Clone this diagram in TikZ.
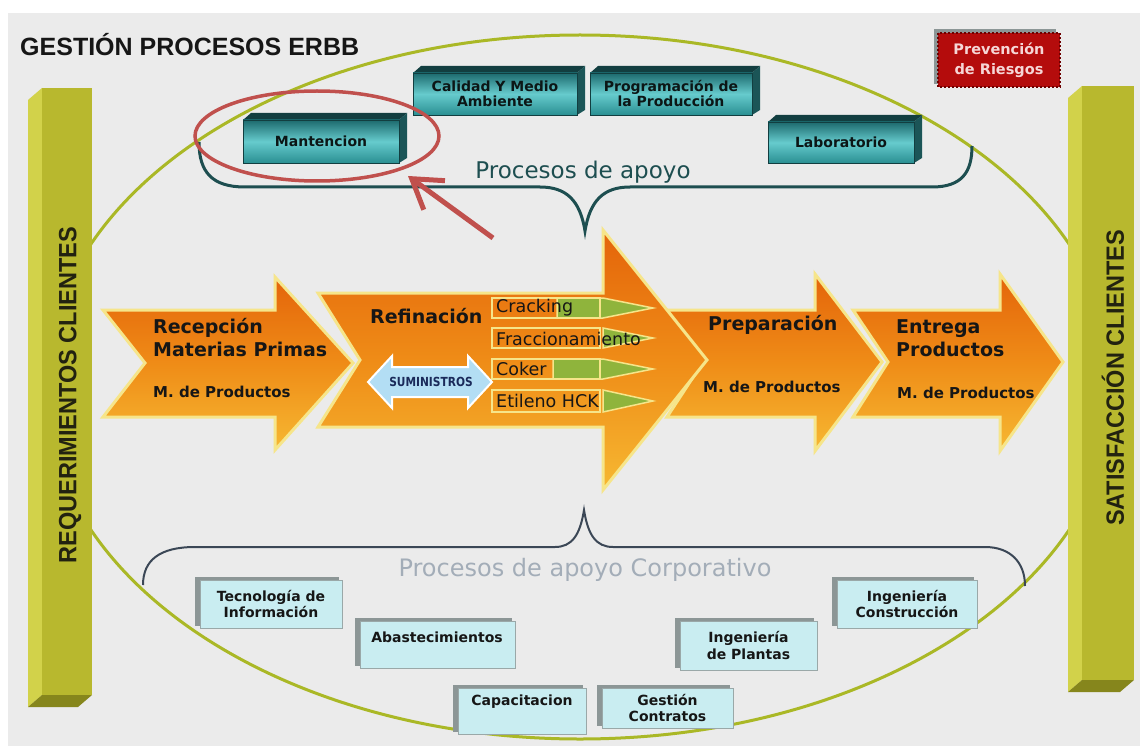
\documentclass[tikz,border=0pt]{standalone}
\usepackage{fontspec}
\setmainfont{DejaVu Sans}
\newfontfamily\arialfont{Liberation Sans}
\usetikzlibrary{arrows.meta,calc,shapes.geometric}

% palette
\definecolor{paper}{HTML}{EBEBEB}
\definecolor{hoopgreen}{HTML}{AAB826}
\definecolor{palegold}{HTML}{F6E58A}
\definecolor{orangetop}{HTML}{E4640A}
\definecolor{orangemid}{HTML}{EF8C17}
\definecolor{orangebot}{HTML}{F6B832}
\definecolor{leaf}{HTML}{8FB43C}
\definecolor{sky}{HTML}{B3DEF4}
\definecolor{navyink}{HTML}{1A2A5A}
\definecolor{inkdark}{HTML}{161616}
\definecolor{tealtopc}{HTML}{1D6A6E}
\definecolor{tealmidc}{HTML}{66CBCD}
\definecolor{tealbotc}{HTML}{2A8F92}
\definecolor{tealroof}{HTML}{123E40}
\definecolor{tealflank}{HTML}{1B5557}
\definecolor{tealink}{HTML}{0C1616}
\definecolor{bracketteal}{HTML}{1D4E50}
\definecolor{bracketslate}{HTML}{3B4756}
\definecolor{corplabel}{HTML}{A3ADB8}
\definecolor{corpfill}{HTML}{C9EDF1}
\definecolor{corpshade}{HTML}{8C9696}
\definecolor{corpedge}{HTML}{9AA8A8}
\definecolor{riskfill}{HTML}{B40C0C}
\definecolor{riskedge}{HTML}{6E0000}
\definecolor{risktext}{HTML}{F6D6D6}
\definecolor{ringred}{HTML}{C0504D}
\definecolor{barfront}{HTML}{B8B82E}
\definecolor{barside}{HTML}{D2D24A}
\definecolor{barfoot}{HTML}{86861C}
\definecolor{barink}{HTML}{222210}

\tikzset{
  hoop/.style={draw=hoopgreen, line width=3pt},
  chevron/.style={draw=palegold, line width=3pt, line join=miter,
    top color=orangetop, bottom color=orangebot, middle color=orangemid},
  stagetitle/.style={font=\fontsize{19}{23}\selectfont\bfseries, text=inkdark,
    align=left, anchor=west, inner sep=0pt},
  stagesub/.style={font=\fontsize{15}{17}\selectfont\bfseries, text=inkdark,
    anchor=west, inner sep=0pt},
  rowlabel/.style={font=\fontsize{17.5}{19}\selectfont, text=inkdark,
    anchor=west, inner sep=0pt},
  rowarrow/.style={fill=leaf, draw=palegold, line width=1.5pt, line join=miter},
  rowframe/.style={draw=palegold, line width=1.5pt},
  tealtext/.style={font=\fontsize{14}{15}\selectfont\bfseries, text=tealink,
    align=center, inner sep=0pt},
  corptext/.style={font=\fontsize{14}{16.5}\selectfont\bfseries, text=inkdark,
    align=center, inner sep=0pt},
  bracketline/.style={draw=bracketteal, line width=3pt},
  corpbracket/.style={draw=bracketslate, line width=2pt},
  bartext/.style={font=\arialfont\fontsize{25}{28}\selectfont\bfseries, text=barink,
    rotate=90, inner sep=0pt},
  pointer/.style={draw=ringred, line width=5pt,
    -{Straight Barb[length=28pt,width=36pt]}},
  highlightring/.style={draw=ringred, line width=3.5pt, ellipse, inner sep=0pt,
    minimum width=244pt, minimum height=90pt},
}

% raised teal process block: name, x1, y1, x2, y2, label
\newcommand{\tealblock}[6]{%
  \fill[tealroof] (#2,#3) -- (#2+8,#3-7) -- (#4+8,#3-7) -- (#4,#3) -- cycle;
  \fill[tealflank] (#4,#3) -- (#4+8,#3-7) -- (#4+8,#5-5) -- (#4,#5) -- cycle;
  \shade[top color=tealtopc, bottom color=tealbotc, middle color=tealmidc]
    (#2,#3) rectangle (#4,#5);
  \draw[tealroof, line width=0.8pt] (#2,#3) rectangle (#4,#5);
  \node[tealtext] (#1) at ({(#2+#4)/2},{(#3+#5)/2}) {#6};
}

% pale corporate block with shadow on the upper left: name, x1, y1, x2, y2
\newcommand{\corpblock}[5]{%
  \fill[corpshade] (#2-5,#3-3) rectangle (#4-3,#5-2);
  \fill[corpfill, draw=corpedge, line width=0.8pt] (#2,#3) rectangle (#4,#5);
  \coordinate (#1) at ({(#2+#4)/2},{(#3+#5)/2});
}

% olive column: front left x, top y, front right x, bottom y
\newcommand{\olivecolumn}[4]{%
  \fill[barside] (#1-14,#2+12) -- (#1,#2) -- (#1,#4) -- (#1-14,#4+12) -- cycle;
  \fill[barfoot] (#1-14,#4+12) -- (#1,#4) -- (#3,#4) -- (#3-14,#4+12) -- cycle;
  \fill[barfront] (#1,#2) rectangle (#3,#4);
}

\begin{document}
\begin{tikzpicture}[x=1pt,y=-1pt]
\useasboundingbox (0,0) rectangle (1140,746);
\fill[white] (0,0) rectangle (1140,746);
\fill[paper] (8,13) rectangle (1140,746);

% title
\node[font=\arialfont\fontsize{25}{27}\selectfont\bfseries, text=inkdark,
      anchor=west, inner sep=0pt] (title) at (20,45) {GESTIÓN PROCESOS ERBB};

% outer hoop
\draw[hoop] (580,387) ellipse [x radius=535, y radius=352];

% support processes bracket
\draw[bracketline] (199,142) .. controls (199,172) and (212,187) .. (245,187)
  -- (540,187) .. controls (566,187) and (580,200) .. (585,231)
  .. controls (590,200) and (604,187) .. (630,187)
  -- (932,187) .. controls (962,187) and (972,172) .. (972,146);
\node[font=\fontsize{23}{25}\selectfont, text=bracketteal, inner sep=0pt]
  (apoyo) at (583,172) {Procesos de apoyo};

% support blocks
\tealblock{mant}{243}{120}{399}{163}{Mantencion}
\tealblock{calidad}{413}{73}{577}{115}{Calidad Y Medio\\Ambiente}
\tealblock{prog}{590}{73}{752}{115}{Programación de\\la Producción}
\tealblock{lab}{768}{122}{914}{163}{Laboratorio}

% highlight ring and pointer
\node[highlightring] (ring) at (317,136) {};
\coordinate (ptail) at (493,238);
\coordinate (ptip) at (408,176);
\draw[pointer] (ptail) -- (ptip);

% value chain chevrons
\draw[chevron] (853,310) -- (1000,310) -- (1000,274) -- (1063,362) -- (1000,451)
  -- (1000,417) -- (853,417) -- (888,362) -- cycle;
\draw[chevron] (667,310) -- (815,310) -- (815,274) -- (882,362) -- (815,451)
  -- (815,417) -- (667,417) -- (703,362) -- cycle;
\draw[chevron] (318,293) -- (603,293) -- (603,230) -- (707,360) -- (603,490)
  -- (603,427) -- (318,427) -- (360,360) -- cycle;
\draw[chevron] (103,310) -- (275,310) -- (275,277) -- (353,363) -- (275,450)
  -- (275,417) -- (103,417) -- (145,363) -- cycle;

% refining units
\draw[rowarrow] (557,298) -- (603,298) -- (653,308) -- (603,318) -- (557,318) -- cycle;
\draw[rowarrow] (603,328) -- (653,338) -- (603,348) -- cycle;
\draw[rowarrow] (553,359) -- (603,359) -- (653,369) -- (603,379) -- (553,379) -- cycle;
\draw[rowarrow] (603,390) -- (653,401) -- (603,412) -- cycle;
\draw[rowframe] (492,298) rectangle (600,318);
\draw[rowframe] (492,328) rectangle (600,348);
\draw[rowframe] (492,359) rectangle (600,379);
\draw[rowframe] (492,390) rectangle (600,412);
\node[rowlabel] (cracking) at (496,308) {Cracking};
\node[rowlabel] (fracc) at (496,339) {Fraccionamiento};
\node[rowlabel] (coker) at (496,369) {Coker};
\node[rowlabel] (etileno) at (496,401) {Etileno HCK};

% utilities double arrow
\draw[fill=sky, draw=white, line width=2pt, line join=miter]
  (368,382) -- (392,356) -- (392,367) -- (468,367) -- (468,356) -- (492,382)
  -- (468,408) -- (468,397) -- (392,397) -- (392,408) -- cycle;
\node[font=\fontsize{12.5}{13}\selectfont\bfseries, text=navyink, inner sep=0pt]
  (suministros) at (431,382) {\scalebox{0.85}[1]{SUMINISTROS}};

% stage labels
\node[stagetitle] (recepcion) at (153,338) {Recepción\\Materias Primas};
\node[stagesub] (recsub) at (153,392) {M. de Productos};
\node[stagetitle] (refinacion) at (370,316) {Refinación};
\node[stagetitle] (preparacion) at (708,325) {Preparación};
\node[stagesub] (prepsub) at (703,387) {M. de Productos};
\node[stagetitle] (entrega) at (896,338) {Entrega\\Productos};
\node[stagesub] (entsub) at (897,393) {M. de Productos};

% corporate support bracket
\draw[corpbracket] (143,585) .. controls (143,560) and (160,547) .. (195,547)
  -- (555,547) .. controls (572,547) and (580,535) .. (584,510)
  .. controls (588,535) and (596,547) .. (613,547)
  -- (985,547) .. controls (1010,547) and (1025,562) .. (1025,586);
\node[font=\fontsize{24}{26}\selectfont, text=corplabel, inner sep=0pt]
  (corporativo) at (585,570) {Procesos de apoyo Corporativo};

% corporate blocks
\corpblock{tic}{200}{580}{342}{628}
\node[corptext] (tictext) at (tic) {Tecnología de\\Información};
\corpblock{abast}{360}{621}{515}{668}
\node[corptext] (abasttext) at (437,637) {Abastecimientos};
\corpblock{capac}{458}{688}{586}{734}
\node[corptext] (capactext) at (522,702) {Capacitacion};
\corpblock{contr}{602}{688}{733}{728}
\node[corptext] (contrtext) at (contr) {Gestión\\Contratos};
\corpblock{plant}{680}{621}{817}{670}
\node[corptext] (planttext) at (plant) {Ingeniería\\de Plantas};
\corpblock{constr}{837}{580}{977}{628}
\node[corptext] (constrtext) at (constr) {Ingeniería\\Construcción};

% customer columns
\olivecolumn{42}{88}{92}{695}
\node[bartext] (req) at (70,395) {\scalebox{0.94}[1]{REQUERIMIENTOS CLIENTES}};
\olivecolumn{1082}{86}{1134}{680}
\node[bartext] (sat) at (1113,378) {\scalebox{0.94}[1]{SATISFACCIÓN CLIENTES}};

% risk prevention tag
\fill[corpshade] (934,29) rectangle (1056,84);
\draw[fill=riskfill, draw=riskedge, line width=1.5pt, dash pattern=on 2pt off 2pt]
  (938,33) rectangle (1060,87);
\node[font=\fontsize{14.5}{20}\selectfont\bfseries, text=risktext, align=center,
      inner sep=0pt] (riesgos) at (999,60) {Prevención\\de Riesgos};
\end{tikzpicture}
\end{document}
